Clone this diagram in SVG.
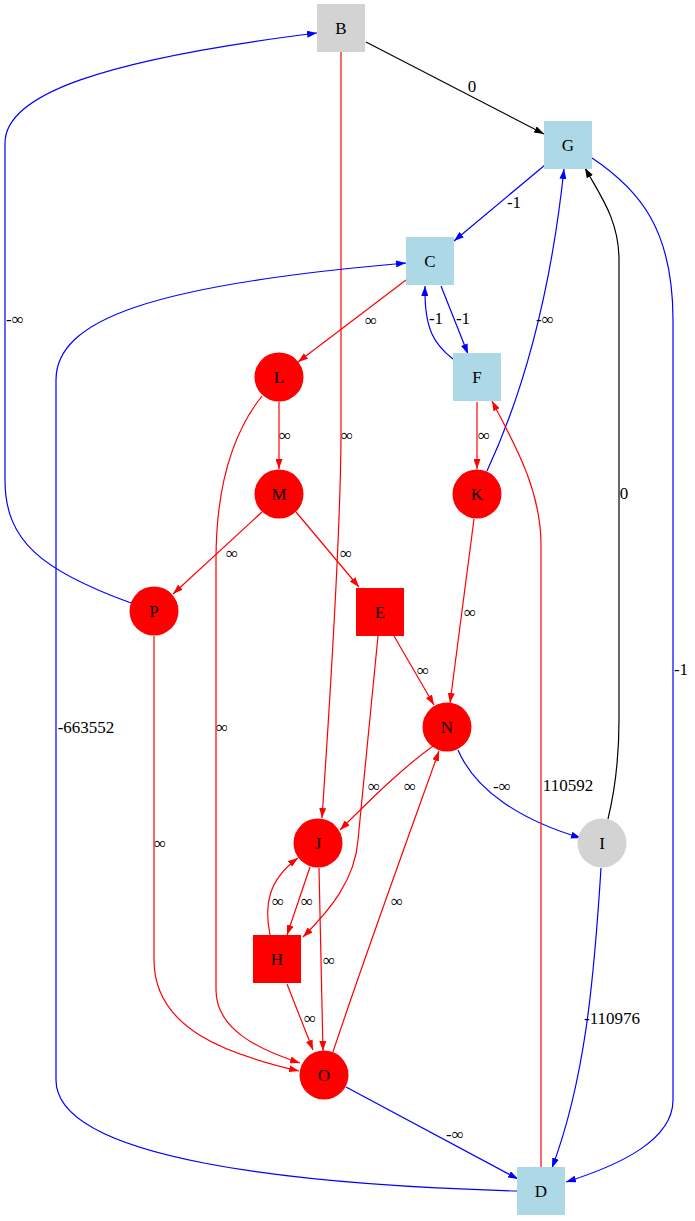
<svg xmlns="http://www.w3.org/2000/svg" width="695" height="1221" viewBox="0 0 695 1221">
<style>
text{font-family:"Liberation Serif","Times New Roman",serif;font-size:17px;fill:#000;text-anchor:middle}
.e{fill:none;stroke-width:1.2}
.k{stroke:#000;marker-end:url(#ak)}
.b{stroke:#0000ff;marker-end:url(#ab)}
.r{stroke:#ff0000;marker-end:url(#ar)}
.red{fill:#ff0000}
.lb{fill:#add8e6}
.gr{fill:#d3d3d3}
</style>
<defs>
<marker id="ak" markerUnits="userSpaceOnUse" markerWidth="10" markerHeight="7" refX="10" refY="3.5" orient="auto"><path d="M0,0 L10,3.5 L0,7 z" fill="#000"/></marker>
<marker id="ab" markerUnits="userSpaceOnUse" markerWidth="10" markerHeight="7" refX="10" refY="3.5" orient="auto"><path d="M0,0 L10,3.5 L0,7 z" fill="#0000ff"/></marker>
<marker id="ar" markerUnits="userSpaceOnUse" markerWidth="10" markerHeight="7" refX="10" refY="3.5" orient="auto"><path d="M0,0 L10,3.5 L0,7 z" fill="#ff0000"/></marker>
</defs>
<rect width="695" height="1221" fill="#fff"/>
<g id="edges">
<path class="e k" d="M366,42 L544,134"/>
<text x="472" y="92">0</text>
<path class="e r" d="M341,52 L341,430 C341,520 330,700 322,818"/>
<text x="347" y="441">∞</text>
<path class="e b" d="M545,165 L454,241"/>
<text x="514" y="208">-1</text>
<path class="e b" d="M592,158 C640,190 673,230 673,320 L673,1100 C673,1140 620,1165 566,1182"/>
<text x="681" y="675">-1</text>
<path class="e r" d="M406,280 L298,362"/>
<text x="371" y="326">∞</text>
<path class="e b" d="M441,286 L468,354"/>
<text x="463" y="324">-1</text>
<path class="e b" d="M453,359 C435,345 424,330 425,286"/>
<text x="436" y="324">-1</text>
<path class="e r" d="M477,402 L477,469"/>
<text x="484" y="441">∞</text>
<path class="e b" d="M487,471 C520,400 550,300 564,169"/>
<text x="545" y="325">-∞</text>
<path class="e r" d="M279,402 L279,469"/>
<text x="285" y="441">∞</text>
<path class="e r" d="M262,396 C235,430 216,480 216,560 L216,990 C216,1030 260,1050 300,1063"/>
<text x="222" y="733">∞</text>
<path class="e r" d="M262,512 L173,594"/>
<text x="232" y="559">∞</text>
<path class="e r" d="M296,512 L359,587"/>
<text x="346" y="559">∞</text>
<path class="e b" d="M131,603 C40,570 5,540 5,480 L5,143 C5,95 100,60 317,33"/>
<text x="15" y="325">-∞</text>
<path class="e r" d="M154,636 L154,960 C154,1030 230,1055 299,1071"/>
<text x="160" y="849">∞</text>
<path class="e r" d="M394,636 L434,705"/>
<text x="423" y="676">∞</text>
<path class="e r" d="M378,636 L358,840 C355,880 330,910 303,937"/>
<text x="374" y="792">∞</text>
<path class="e r" d="M474,519 L450,703"/>
<text x="470" y="618">∞</text>
<path class="e r" d="M433,746 C400,770 370,800 340,830"/>
<text x="410" y="792">∞</text>
<path class="e b" d="M458,750 C475,790 520,820 581,838"/>
<text x="502" y="792">-∞</text>
<path class="e k" d="M608,819 C615,790 619,760 619,720 L619,260 C619,220 600,195 585,168"/>
<text x="624" y="499">0</text>
<path class="e b" d="M601,868 C594,980 585,1080 552,1168"/>
<text x="612" y="1024">-110976</text>
<path class="e r" d="M310,867 L287,935"/>
<text x="307" y="907">∞</text>
<path class="e r" d="M270,935 C264,905 268,880 298,858"/>
<text x="278" y="907">∞</text>
<path class="e r" d="M319,868 L323,1051"/>
<text x="329" y="966">∞</text>
<path class="e r" d="M287,984 L313,1050"/>
<text x="310" y="1024">∞</text>
<path class="e r" d="M333,1052 C360,970 400,860 439,751"/>
<text x="397" y="907">∞</text>
<path class="e b" d="M346,1087 L518,1179"/>
<text x="455" y="1140">-∞</text>
<path class="e b" d="M517,1191 C300,1185 56,1160 56,1080 L56,380 C56,320 150,285 406,263"/>
<text x="86" y="733">-663552</text>
<path class="e r" d="M541,1167 L541,545 C541,490 515,445 492,401"/>
<text x="568" y="791">110592</text>
</g>
<g id="B"><rect class="gr" x="317" y="4" width="48" height="48"/><text x="341" y="34">B</text></g>
<g id="G"><rect class="lb" x="544" y="121" width="48" height="48"/><text x="568" y="151">G</text></g>
<g id="C"><rect class="lb" x="406" y="237" width="48" height="48"/><text x="430" y="267">C</text></g>
<g id="F"><rect class="lb" x="453" y="353" width="48" height="48"/><text x="477" y="383">F</text></g>
<g id="L"><circle class="red" cx="279" cy="377" r="24.5"/><text x="279" y="383">L</text></g>
<g id="M"><circle class="red" cx="279" cy="494" r="24.5"/><text x="279" y="500">M</text></g>
<g id="K"><circle class="red" cx="477" cy="494" r="24.5"/><text x="477" y="500">K</text></g>
<g id="P"><circle class="red" cx="154" cy="611" r="24.5"/><text x="154" y="617">P</text></g>
<g id="E"><rect class="red" x="356" y="588" width="48" height="48"/><text x="380" y="618">E</text></g>
<g id="N"><circle class="red" cx="447" cy="727" r="24.5"/><text x="447" y="733">N</text></g>
<g id="J"><circle class="red" cx="318" cy="843" r="24.5"/><text x="318" y="849">J</text></g>
<g id="I"><circle class="gr" cx="602" cy="843" r="24.5"/><text x="602" y="849">I</text></g>
<g id="H"><rect class="red" x="253" y="935" width="48" height="48"/><text x="277" y="965">H</text></g>
<g id="O"><circle class="red" cx="324" cy="1075" r="24.5"/><text x="324" y="1081">O</text></g>
<g id="D"><rect class="lb" x="517" y="1167" width="48" height="48"/><text x="541" y="1197">D</text></g>
</svg>
